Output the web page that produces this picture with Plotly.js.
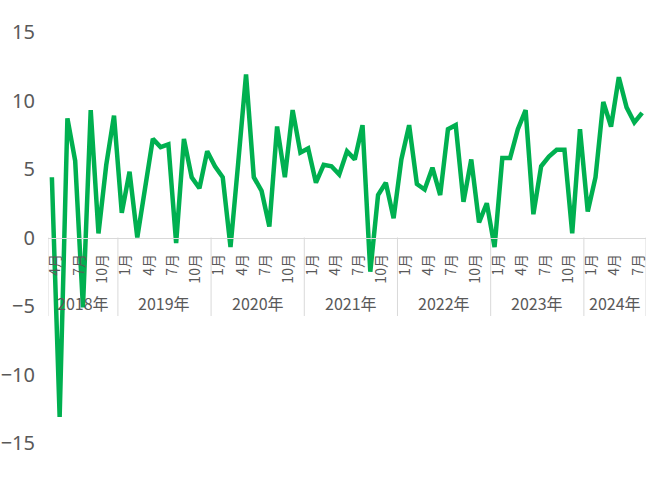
<!DOCTYPE html>
<html>
<head>
<meta charset="utf-8">
<script src="https://cdn.plot.ly/plotly-3.0.1.min.js"></script>
<style>
  html, body { margin: 0; padding: 0; background: #fff; }
  #chart { width: 664px; height: 482px; }
</style>
</head>
<body>
<div id="chart"></div>
<script>
// Chart colours
const COLORS = {
  line: '#00b050',
  text: '#595959',
  axis: '#d9d9d9',
};

// Years shown on the second axis level, and how many months each has
const years = ['2018年', '2019年', '2020年', '2021年', '2022年', '2023年', '2024年'];
const monthsInYear = [9, 12, 12, 12, 12, 12, 8];
const firstMonth = 4; // series starts in April 2018
const labelledMonths = [1, 4, 7, 10];

// Monthly values, Apr 2018 .. Aug 2024
const values2018 = [4.4, -13.1, 8.7, 5.6, -5.1, 9.3, 0.3, 5.3, 8.9];
const values2019 = [1.8, 4.8, 0.0, 3.6, 7.2, 6.6, 6.8, -0.4, 7.2, 4.4, 3.6, 6.3];
const values2020 = [5.2, 4.4, -0.7, 5.5, 11.9, 4.4, 3.4, 0.8, 8.1, 4.4, 9.3, 6.2];
const values2021 = [6.5, 4.0, 5.3, 5.2, 4.6, 6.3, 5.7, 8.2, -2.5, 3.1, 4.0, 1.4];
const values2022 = [5.7, 8.2, 3.9, 3.5, 5.1, 3.1, 7.9, 8.2, 2.6, 5.7, 1.1, 2.5];
const values2023 = [-0.7, 5.8, 5.8, 7.9, 9.3, 1.7, 5.2, 5.9, 6.4, 6.4, 0.3, 7.9];
const values2024 = [1.9, 4.4, 9.9, 8.1, 11.7, 9.5, 8.4, 9.1];

const values = [].concat(values2018, values2019, values2020, values2021,
  values2022, values2023, values2024);

// Build month positions, tick labels and year spans
const xIdx = values.map((v, i) => i);
const tickVals = [];
const tickText = [];
const yearSpans = [];
let idx = 0;
years.forEach((yr, y) => {
  const start = idx;
  for (let k = 0; k < monthsInYear[y]; k++) {
    const m = y === 0 ? firstMonth + k : k + 1;
    if (labelledMonths.includes(m)) {
      tickVals.push(idx + 0.5);
      tickText.push(m + '月');
    }
    idx++;
  }
  yearSpans.push({ label: yr, from: start - 0.5, to: idx - 0.5 });
});

const trace = {
  x: xIdx,
  y: values,
  type: 'scatter',
  mode: 'lines',
  line: { color: COLORS.line, width: 4.5, shape: 'linear' },
  hoverinfo: 'y',
};

// Year labels under the month labels
const annotations = yearSpans.map(s => ({
  x: (s.from + s.to) / 2,
  y: 0.34,
  xref: 'x',
  yref: 'paper',
  text: s.label,
  showarrow: false,
  xanchor: 'center',
  yanchor: 'middle',
  font: { family: 'Noto Sans CJK JP, Noto Sans, sans-serif', size: 16, color: COLORS.text },
}));

// Vertical separators between years
const boundaries = [yearSpans[0].from].concat(yearSpans.map(s => s.to));
const shapes = boundaries.map(b => ({
  type: 'line',
  xref: 'x',
  yref: 'paper',
  x0: b, x1: b,
  y0: 0.5, y1: 0.309,
  line: { color: COLORS.axis, width: 1 },
  layer: 'below',
}));

const layout = {
  width: 664,
  height: 482,
  margin: { l: 48, r: 18, t: 32, b: 39, pad: 0 },
  paper_bgcolor: '#ffffff',
  plot_bgcolor: '#ffffff',
  showlegend: false,
  xaxis: {
    type: 'linear',
    range: [-0.5, values.length - 0.5],
    anchor: 'free',
    position: 0.5,
    showline: true,
    linecolor: COLORS.axis,
    linewidth: 1,
    showgrid: false,
    zeroline: false,
    tickmode: 'array',
    tickvals: tickVals,
    ticktext: tickText,
    tickangle: -90,
    ticks: 'outside',
    ticklen: 10,
    tickcolor: 'rgba(0,0,0,0)',
    tickfont: { family: 'Noto Sans CJK JP, sans-serif', size: 14, color: COLORS.text },
    fixedrange: true,
  },
  yaxis: {
    range: [-15, 15],
    tickmode: 'linear',
    tick0: 0,
    dtick: 5,
    showgrid: false,
    zeroline: false,
    showline: false,
    ticks: 'outside',
    ticklen: 8,
    tickcolor: 'rgba(0,0,0,0)',
    tickfont: { family: 'Noto Sans, sans-serif', size: 20, color: COLORS.text },
    fixedrange: true,
  },
  annotations: annotations,
  shapes: shapes,
};

Plotly.newPlot('chart', [trace], layout, { displayModeBar: false, staticPlot: true });
</script>
</body>
</html>
